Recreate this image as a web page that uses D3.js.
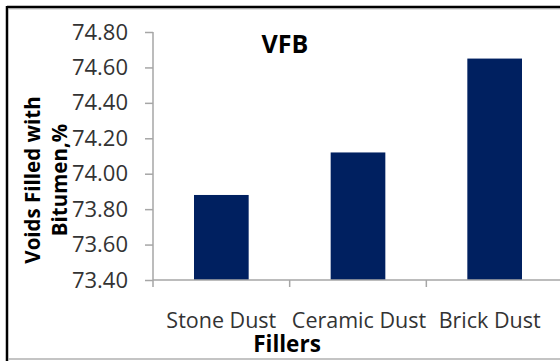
<!DOCTYPE html>
<html>
<head>
<meta charset="utf-8">
<script src="https://cdn.jsdelivr.net/npm/d3@7"></script>
<style>
  html, body { margin: 0; padding: 0; background: #fff; }
  svg { display: block; }
  text { font-family: "Open Sans", "Noto Sans", sans-serif; }
</style>
</head>
<body>
<svg id="chart" width="560" height="361"></svg>
<script>
// VFB by filler type
const categories = ["Stone Dust", "Ceramic Dust", "Brick Dust"];
const vfbValues = [73.88, 74.12, 74.65];
const yTicks = [73.40, 73.60, 73.80, 74.00, 74.20, 74.40, 74.60, 74.80];
const chartTitle = "VFB";
const xTitle = "Fillers";
const yTitleLines = ["Voids Filled with", "Bitumen,%"];

const svg = d3.select("#chart");
const W = 560, H = 361;
const plot = { left: 153, right: 563, top: 32, bottom: 280 };
const axisColor = "#a6a6a6";
const barColor = "#002060";

// chart frame
svg.append("line").attr("x1", 7).attr("x2", W + 5).attr("y1", 7).attr("y2", 7)
  .attr("stroke", "#000").attr("stroke-width", 2.5);
svg.append("line").attr("x1", 7).attr("x2", 7).attr("y1", 6).attr("y2", H + 2)
  .attr("stroke", "#000").attr("stroke-width", 2.5);
svg.append("line").attr("x1", 8).attr("x2", W + 5).attr("y1", 8.8).attr("y2", 8.8)
  .attr("stroke", "#9a9a9a").attr("stroke-width", 1);
svg.append("line").attr("x1", 8).attr("x2", W + 5).attr("y1", 359).attr("y2", 359)
  .attr("stroke", "#b0b0b0").attr("stroke-width", 1.5);

const y = d3.scaleLinear().domain([73.4, 74.8]).range([plot.bottom, plot.top]);
const x = d3.scaleBand().domain(categories).range([plot.left, plot.right])
  .paddingInner(0.6).paddingOuter(0.3);

// bars
svg.append("g").selectAll("rect").data(categories).join("rect")
  .attr("x", d => x(d))
  .attr("width", x.bandwidth())
  .attr("y", (d, i) => y(vfbValues[i]))
  .attr("height", (d, i) => y(73.4) - y(vfbValues[i]))
  .attr("fill", barColor);

// y axis
const yAxis = svg.append("g").attr("transform", `translate(${plot.left},0)`)
  .call(d3.axisLeft(y).tickValues(yTicks).tickFormat(d3.format(".2f")).tickSize(8).tickPadding(17));
yAxis.select(".domain").attr("stroke", axisColor).attr("stroke-width", 1.5)
  .attr("d", `M0,${plot.top}V${plot.bottom}`);
yAxis.selectAll(".tick line").attr("stroke", axisColor).attr("stroke-width", 1.5);
yAxis.selectAll(".tick text").attr("fill", "#333").style("font-size", "22px")
  .attr("font-family", null);

// x axis: baseline with tick marks at category boundaries
const step = x.step();
const xAxisG = svg.append("g");
xAxisG.append("line").attr("x1", plot.left).attr("x2", plot.right)
  .attr("y1", plot.bottom).attr("y2", plot.bottom)
  .attr("stroke", axisColor).attr("stroke-width", 1.5);
xAxisG.selectAll("line.cat").data(d3.range(categories.length)).join("line")
  .attr("class", "cat")
  .attr("x1", i => plot.left + i * step).attr("x2", i => plot.left + i * step)
  .attr("y1", plot.bottom).attr("y2", plot.bottom + 7)
  .attr("stroke", axisColor).attr("stroke-width", 1.5);

// category labels; the last one is pulled in to stay inside the chart
const labelShift = [0, 1, -5];
xAxisG.selectAll("text.cat").data(categories).join("text")
  .attr("class", "cat")
  .attr("x", (d, i) => x(d) + x.bandwidth() / 2 + labelShift[i])
  .attr("y", 328)
  .attr("text-anchor", "middle")
  .attr("fill", "#333")
  .style("font-size", "21.5px")
  .text(d => d);

// titles
svg.append("text").attr("x", 285).attr("y", 53).attr("text-anchor", "middle")
  .attr("font-weight", "bold").style("font-size", "25px").attr("fill", "#000")
  .text(chartTitle);
svg.append("text").attr("x", 287).attr("y", 351.5).attr("text-anchor", "middle")
  .attr("font-weight", "bold").style("font-size", "22.5px").attr("fill", "#000")
  .text(xTitle);

const yTitle = svg.append("text")
  .attr("transform", "translate(40,180) rotate(-90)")
  .attr("text-anchor", "middle")
  .attr("font-weight", "bold").style("font-size", "20.5px").attr("fill", "#000");
yTitle.selectAll("tspan").data(yTitleLines).join("tspan")
  .attr("x", 0).attr("dy", (d, i) => i === 0 ? 0 : 27)
  .text(d => d);
</script>
</body>
</html>
